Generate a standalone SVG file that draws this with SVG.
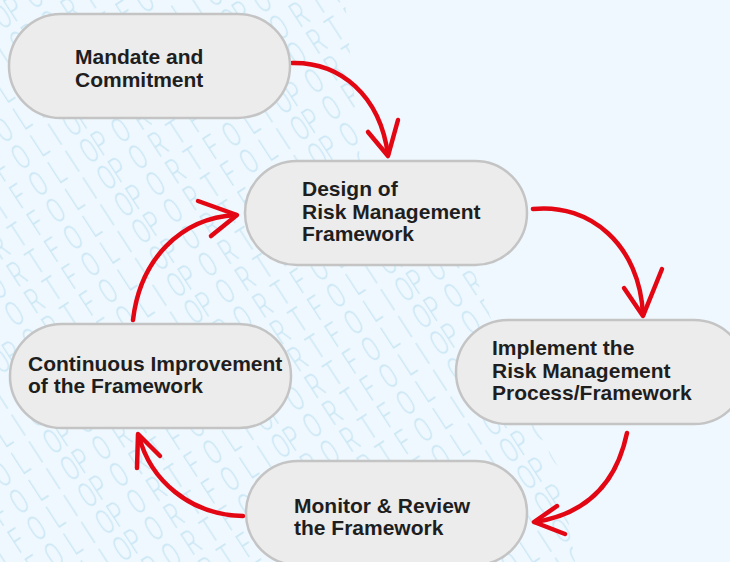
<svg xmlns="http://www.w3.org/2000/svg" width="730" height="562" viewBox="0 0 730 562">
  <style>
    .node { fill: #ececec; stroke: #c4c4c4; stroke-width: 2.5; }
    .label { font-family: "Liberation Sans", Arial, sans-serif; font-weight: bold; font-size: 21px; fill: #1e1e1e; }
    .wm { font-family: Roboto, "DejaVu Sans", sans-serif; font-weight: 300; font-size: 35px; fill: #cbe7f5; }
    .arrow { fill: none; stroke: #e30613; stroke-width: 4.5; stroke-linecap: round; stroke-linejoin: round; }
  </style>
  <defs>
    <pattern id="wmPattern" patternUnits="userSpaceOnUse" width="189" height="32" patternTransform="rotate(-33)">
      <text class="wm" transform="scale(0.62 1)" x="0" y="27" textLength="305" lengthAdjust="spacing">PORTFOLIO</text>
    </pattern>
    <clipPath id="wmClip">
      <polygon points="0,0 345,0 360,160 470,260 520,400 560,470 575,562 0,562"/>
    </clipPath>
  </defs>

  <!-- background and watermark -->
  <rect width="730" height="562" fill="#eff8fe"/>
  <rect width="730" height="562" fill="url(#wmPattern)" clip-path="url(#wmClip)"/>

  <!-- connectors -->
  <g id="connectors">
    <g id="c1">
      <path class="arrow" d="M292,63 C340,62 380,95 388,155"/>
      <path class="arrow" d="M368,132 L388,156 L398,120"/>
    </g>
    <g id="c2">
      <path class="arrow" d="M533,209 C590,203 640,245 643,315"/>
      <path class="arrow" d="M624,288 L643,316 L662,269"/>
    </g>
    <g id="c3">
      <path class="arrow" d="M627,433 C615,490 580,515 535,522"/>
      <path class="arrow" d="M557,506 L534,522 L565,534"/>
    </g>
    <g id="c4">
      <path class="arrow" d="M243,516 C190,515 150,480 139,436"/>
      <path class="arrow" d="M137,468 L138,434 L160,456"/>
    </g>
    <g id="c5">
      <path class="arrow" d="M133,320 C140,260 180,218 236,215"/>
      <path class="arrow" d="M198,201 L237,215 L211,236"/>
    </g>
  </g>

  <!-- nodes -->
  <g id="mandate">
    <rect class="node" x="9" y="14" width="281" height="104" rx="52"/>
    <text class="label" x="75" y="64">Mandate and<tspan x="75" y="86.5">Commitment</tspan></text>
  </g>
  <g id="design">
    <rect class="node" x="245" y="161" width="282" height="104" rx="52"/>
    <text class="label" x="302" y="196">Design of<tspan x="302" y="218.5">Risk Management</tspan><tspan x="302" y="241">Framework</tspan></text>
  </g>
  <g id="implement">
    <rect class="node" x="456" y="320" width="290" height="104" rx="52"/>
    <text class="label" x="492" y="355">Implement the<tspan x="492" y="377.5">Risk Management</tspan><tspan x="492" y="399.5">Process/Framework</tspan></text>
  </g>
  <g id="monitor">
    <rect class="node" x="246" y="461" width="281" height="104" rx="52"/>
    <text class="label" x="294" y="513">Monitor &amp; Review<tspan x="294" y="534.5">the Framework</tspan></text>
  </g>
  <g id="improve">
    <rect class="node" x="10" y="324" width="281" height="104" rx="52"/>
    <text class="label" x="28" y="371">Continuous Improvement<tspan x="28" y="392.5">of the Framework</tspan></text>
  </g>
</svg>
